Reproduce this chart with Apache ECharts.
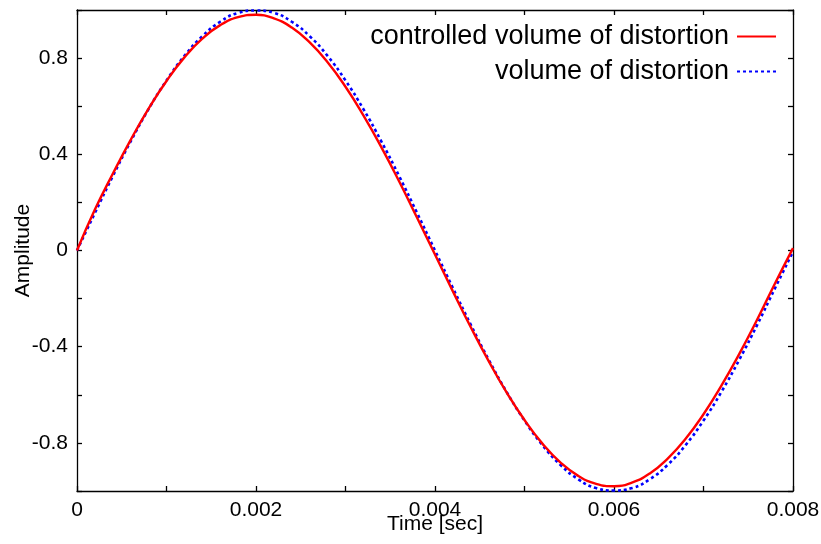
<!DOCTYPE html>
<html>
<head>
<meta charset="utf-8">
<script src="https://cdn.jsdelivr.net/npm/echarts@6/dist/echarts.min.js"></script>
<style>html,body{margin:0;padding:0;background:#fff}#c{width:821px;height:544px}</style>
</head>
<body>
<div id="c"></div>
<script>
// time samples [sec]
var times = [0,0.0002,0.0004,0.0006,0.0008,0.001,0.0012,0.0014,0.0016,0.0018,0.002,0.0022,0.0024,0.0026,0.0028,0.003,0.0032,0.0034,0.0036,0.0038,0.004,0.0042,0.0044,0.0046,0.0048,0.005,0.0052,0.0054,0.0056,0.0058,0.006,0.0062,0.0064,0.0066,0.0068,0.007,0.0072,0.0074,0.0076,0.0078,0.008];
var controlledVolume = [0,0.170,0.319,0.460,0.590,0.705,0.803,0.881,0.937,0.970,0.980,0.965,0.927,0.865,0.783,0.681,0.562,0.430,0.287,0.136,-0.017,-0.170,-0.319,-0.460,-0.590,-0.705,-0.803,-0.881,-0.937,-0.970,-0.980,-0.965,-0.927,-0.865,-0.783,-0.681,-0.562,-0.430,-0.287,-0.136,0.010];
var volume = [0,0.156,0.309,0.454,0.588,0.707,0.809,0.891,0.951,0.988,0.998,0.988,0.951,0.891,0.809,0.707,0.588,0.454,0.309,0.156,0,-0.156,-0.309,-0.454,-0.588,-0.707,-0.809,-0.891,-0.951,-0.988,-0.998,-0.988,-0.951,-0.891,-0.809,-0.707,-0.588,-0.454,-0.309,-0.156,-0.005];
var xTickLabels = ['0','0.002','0.004','0.006','0.008'];
var yTickLabels = ['-0.8','-0.4','0','0.4','0.8'];
var seriesNames = ['controlled volume of distortion','volume of distortion'];

function pairs(xs, ys){ return xs.map(function(x,i){ return [x, ys[i]]; }); }

var font = 'Liberation Sans, Arial, sans-serif';
var axisLine = {show:true, onZero:false, lineStyle:{color:'#000', width:1.3}};
var tick = {show:true, inside:true, length:5, lineStyle:{color:'#000', width:1.3}};

var chart = echarts.init(document.getElementById('c'), null, {renderer:'canvas'});
chart.setOption({
  animation:false,
  backgroundColor:'#fff',
  grid:{left:77, right:28, top:10, bottom:53, containLabel:false, outerBoundsMode:'none'},
  legend:{
    orient:'vertical', right:39, top:18, align:'right', itemGap:8,
    itemWidth:39, itemHeight:2,
    itemStyle:{opacity:0},
    textStyle:{fontFamily:font, fontSize:27, color:'#000', padding:[0,3,0,0]},
    data:seriesNames
  },
  xAxis:[{
    type:'value', min:0, max:0.008, interval:0.001, position:'bottom',
    axisLine:axisLine, axisTick:tick, splitLine:{show:false},
    axisLabel:{margin:9, color:'#000', fontFamily:font, fontSize:21,
      formatter:function(v){ var k=Math.round(v/0.001); return (k%2===0)? xTickLabels[k/2] : ''; }},
    name:'Time [sec]', nameLocation:'middle', nameGap:23, nameMoveOverlap:false,
    nameTextStyle:{fontFamily:font, fontSize:21, color:'#000', verticalAlign:'top'}
  },{
    type:'value', min:0, max:0.008, interval:0.001, position:'top',
    axisLine:axisLine, axisTick:tick, axisLabel:{show:false}, splitLine:{show:false}
  }],
  yAxis:[{
    type:'value', min:-1, max:1, interval:0.2, position:'left',
    axisLine:axisLine, axisTick:tick, splitLine:{show:false},
    axisLabel:{margin:9, color:'#000', fontFamily:font, fontSize:21,
      formatter:function(v){ var k=Math.round(v*5)+5; if(k%2===0) return ''; var idx=(k-1)/2; return (idx>=0&&idx<5)? yTickLabels[idx]:''; }},
    name:'Amplitude', nameLocation:'middle', nameGap:43, nameMoveOverlap:false,
    nameTextStyle:{fontFamily:font, fontSize:21, color:'#000'}
  },{
    type:'value', min:-1, max:1, interval:0.2, position:'right',
    axisLine:axisLine, axisTick:tick, axisLabel:{show:false}, splitLine:{show:false}
  }],
  series:[{
    name:seriesNames[0], type:'line', xAxisIndex:0, yAxisIndex:0,
    data:pairs(times, controlledVolume), smooth:true, symbol:'none', z:3,
    lineStyle:{color:'#ff0000', width:2.4}, itemStyle:{color:'#ff0000'}
  },{
    name:seriesNames[1], type:'line', xAxisIndex:0, yAxisIndex:0,
    data:pairs(times, volume), smooth:true, symbol:'none', z:2,
    lineStyle:{color:'#0000ff', width:2.6, type:[3,3]}, itemStyle:{color:'#0000ff'}
  }]
});
</script>
</body>
</html>
